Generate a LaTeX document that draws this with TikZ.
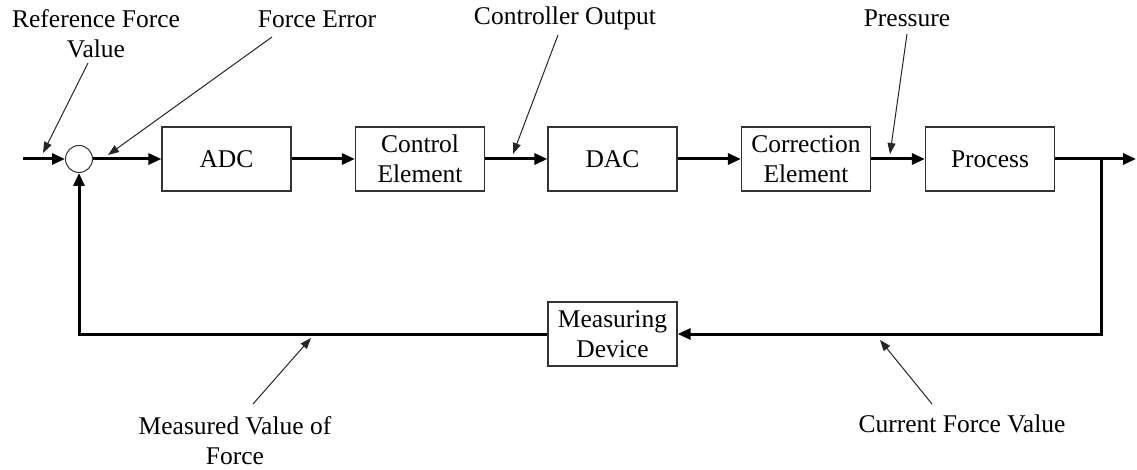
\documentclass[tikz,border=0pt]{standalone}
\usepackage{fontspec}
\setmainfont{Liberation Serif}
\newfontfamily\tnr{Liberation Serif}
\usetikzlibrary{arrows.meta}
\begin{document}
\begin{tikzpicture}[x=1pt,y=-1pt,
  blk/.style={draw=black!80,line width=1.2pt,minimum width=129pt,minimum height=64pt,align=center,inner sep=0pt,font=\tnr\fontsize{25.5}{30}\selectfont},
  lbl/.style={align=center,inner sep=0pt,font=\tnr\fontsize{25.5}{30}\selectfont},
  flow/.style={line width=3pt,-{Triangle[length=13pt,width=11pt]}},
  note/.style={line width=1pt,draw=black!85,-{Triangle[length=11pt,width=8pt]}}]
\useasboundingbox (0,0) rectangle (1137,470);
\node[draw=black!80,line width=1pt,circle,minimum size=27pt,inner sep=0pt] (sum) at (79,159) {};
\node[blk] (adc) at (226.5,159) {ADC};
\node[blk] (ctl) at (420,159) {Control\\Element};
\node[blk] (dac) at (612.5,159) {DAC};
\node[blk] (cor) at (806,159) {Correction\\Element};
\node[blk] (proc) at (990,159) {Process};
\node[blk] (meas) at (612.5,334) {Measuring\\Device};
\coordinate (in) at (23,159);
\coordinate (out) at (1136,159);
\coordinate (br) at (1101,159);
\draw[flow] (in) -- (sum.west);
\draw[flow] (sum.east) -- (adc.west);
\draw[flow] (adc.east) -- (ctl.west);
\draw[flow] (ctl.east) -- (dac.west);
\draw[flow] (dac.east) -- (cor.west);
\draw[flow] (cor.east) -- (proc.west);
\draw[flow] (proc.east) -- (out);
\draw[flow] (br) |- (meas.east);
\draw[flow] (meas.west) -| (sum.south);
% labels
\node[lbl] (l1) at (96,34) {Reference Force\\Value};
\node[lbl] (l2) at (317,19) {Force Error};
\node[lbl] (l3) at (565,18) {Controller Output};
\node[lbl] (l4) at (907,18) {Pressure};
\node[lbl] (l5) at (235,441) {Measured Value of\\Force};
\node[lbl] (l6) at (962,424) {Current Force Value};
\coordinate (a1s) at (88,63);   \coordinate (a1e) at (43,153);
\coordinate (a2s) at (272,37);  \coordinate (a2e) at (108,155);
\coordinate (a3s) at (558,35);  \coordinate (a3e) at (513,154);
\coordinate (a4s) at (907,34);  \coordinate (a4e) at (890,154);
\coordinate (a5s) at (253,404); \coordinate (a5e) at (311,338);
\coordinate (a6s) at (932,404); \coordinate (a6e) at (880,340);
\draw[note] (a1s) -- (a1e);
\draw[note] (a2s) -- (a2e);
\draw[note] (a3s) -- (a3e);
\draw[note] (a4s) -- (a4e);
\draw[note] (a5s) -- (a5e);
\draw[note] (a6s) -- (a6e);
\end{tikzpicture}
\end{document}
